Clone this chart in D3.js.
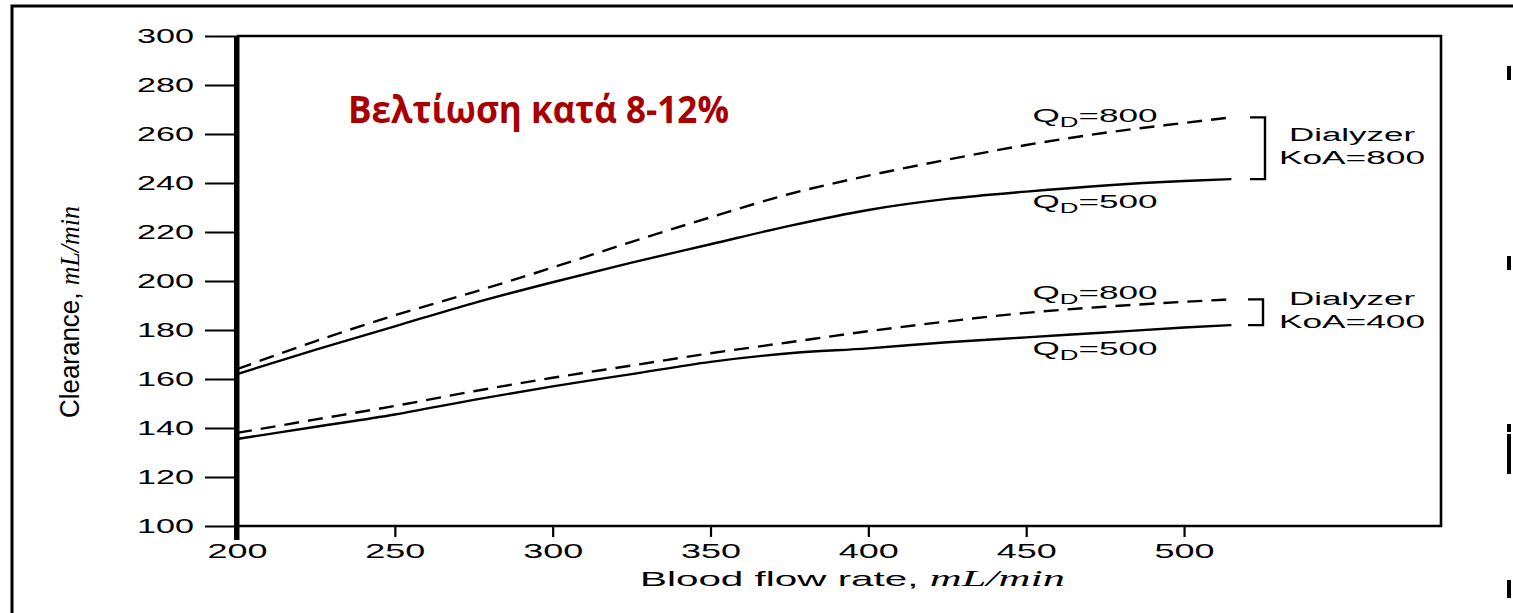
<!DOCTYPE html>
<html>
<head>
<meta charset="utf-8">
<script src="https://cdn.jsdelivr.net/npm/d3@7/dist/d3.min.js"></script>
<style>
  html, body { margin: 0; padding: 0; background: #fff; }
  svg { display: block; }
</style>
</head>
<body>
<svg id="chart" width="1513" height="613"></svg>
<script>
// Blood flow rate (mL/min) at which each clearance curve is sampled
const bloodFlow = [200, 225, 250, 275, 300, 325, 350, 375, 400, 425, 450, 475, 500, 515];

// Urea clearance (mL/min) for two dialyzers at two dialysate flows (QD)
const koa800Qd800 = [164, 175.5, 186, 195.5, 205.5, 216, 226, 235.5, 243, 249.5, 255.5, 260.5, 264.5, 266.8];
const koa800Qd500 = [162, 172, 181.5, 191, 199.5, 207.5, 215, 222.5, 229, 233.5, 236.5, 239, 240.8, 241.6];
const koa400Qd800 = [138, 143.5, 149, 155, 160.5, 165.5, 170.5, 175, 179.5, 183.5, 187, 189.5, 191.5, 192.5];
const koa400Qd500 = [135.5, 140.5, 145.5, 151.5, 157, 162, 167, 170.5, 172.5, 175, 177, 179, 181, 182];

const xTicks = [200, 250, 300, 350, 400, 450, 500];
const yTicks = [100, 120, 140, 160, 180, 200, 220, 240, 260, 280, 300];

const title = "Βελτίωση κατά 8-12%";

const svg = d3.select("#chart");

const x = d3.scaleLinear().domain([200, 581.4]).range([237, 1441]);
const y = d3.scaleLinear().domain([100, 300]).range([526, 36]);

// outer frame of the figure
svg.append("path")
  .attr("d", "M12,613 L12,6 L1513,6")
  .attr("fill", "none").attr("stroke", "#000").attr("stroke-width", 3);

// small marks along the right edge
[[66, 14], [256, 14], [424, 8], [434, 40], [580, 18]].forEach(([y0, h]) => {
  svg.append("rect").attr("x", 1507).attr("y", y0).attr("width", 4).attr("height", h).attr("fill", "#000");
});

// plot box
svg.append("path")
  .attr("d", `M${x(200)},${y(300)} L${x(581.4)},${y(300)} L${x(581.4)},${y(100)} L${x(200)},${y(100)}`)
  .attr("fill", "none").attr("stroke", "#000").attr("stroke-width", 2.6);

const tickFont = "Liberation Sans, Arial, sans-serif";

// y axis
const gy = svg.append("g").attr("transform", `translate(${x(200)},0)`)
  .call(d3.axisLeft(y).tickValues(yTicks).tickSize(32).tickPadding(11).tickFormat(d3.format("d")));
gy.select(".domain").remove();
gy.selectAll(".tick line").attr("stroke", "#000").attr("stroke-width", 2);
gy.selectAll(".tick text")
  .attr("fill", "#000").attr("font-family", tickFont).attr("font-size", 20)
  .attr("textLength", 57).attr("lengthAdjust", "spacingAndGlyphs");

// x axis
const gx = svg.append("g").attr("transform", `translate(0,${y(100)})`)
  .call(d3.axisBottom(x).tickValues(xTicks).tickSize(11).tickPadding(6).tickFormat(d3.format("d")));
gx.select(".domain").remove();
gx.selectAll(".tick line").attr("stroke", "#000").attr("stroke-width", 2.2);
gx.selectAll(".tick text")
  .attr("fill", "#000").attr("font-family", tickFont).attr("font-size", 21)
  .attr("textLength", 60).attr("lengthAdjust", "spacingAndGlyphs");

// heavy left spine
svg.append("rect")
  .attr("x", x(200) - 3).attr("y", y(300)).attr("width", 5.5).attr("height", y(100) - y(300) + 14)
  .attr("fill", "#000");

// axis titles
const xt = svg.append("text")
  .attr("x", 640).attr("y", 586)
  .attr("font-family", tickFont).attr("font-size", 21).attr("fill", "#000")
  .attr("textLength", 425).attr("lengthAdjust", "spacingAndGlyphs");
xt.append("tspan").text("Blood flow rate, ");
xt.append("tspan").attr("font-family", "Liberation Serif, Times New Roman, serif").attr("font-style", "italic").attr("font-size", 23).text("mL/min");

const yt = svg.append("text")
  .attr("transform", "translate(79,312) rotate(-90)")
  .attr("text-anchor", "middle")
  .attr("font-family", "Liberation Sans, Arial, sans-serif").attr("font-size", 27).attr("fill", "#000")
  .attr("textLength", 212).attr("lengthAdjust", "spacingAndGlyphs");
yt.append("tspan").text("Clearance, ");
yt.append("tspan").attr("font-family", "Liberation Serif, Times New Roman, serif").attr("font-style", "italic").text("mL/min");

// curves
const series = [
  { values: koa800Qd800, dashed: true },
  { values: koa800Qd500, dashed: false },
  { values: koa400Qd800, dashed: true },
  { values: koa400Qd500, dashed: false }
];
const line = d3.line().x(d => x(d[0])).y(d => y(d[1])).curve(d3.curveMonotoneX);
series.forEach(s => {
  svg.append("path")
    .datum(bloodFlow.map((b, i) => [b, s.values[i]]))
    .attr("d", line)
    .attr("fill", "none").attr("stroke", "#000").attr("stroke-width", 2.4)
    .attr("stroke-dasharray", s.dashed ? "15,9" : null);
});

// QD labels
function qdLabel(xv, yPix, value) {
  const t = svg.append("text")
    .attr("x", x(xv)).attr("y", yPix)
    .attr("font-family", tickFont).attr("font-size", 19).attr("fill", "#000")
    .attr("textLength", 125).attr("lengthAdjust", "spacingAndGlyphs");
  t.append("tspan").text("Q");
  t.append("tspan").attr("font-size", 14).attr("dy", 5).text("D");
  t.append("tspan").attr("dy", -5).text("=" + value);
}
const lastIdx = bloodFlow.length - 1;
const labelX = 452;
qdLabel(labelX, 122, 800);
qdLabel(labelX, 208, 500);
qdLabel(labelX, 299, 800);
qdLabel(labelX, 355, 500);

// brackets grouping each dialyzer's pair of curves
function bracket(topVal, botVal, x0, name) {
  const yt0 = y(topVal), yb0 = y(botVal);
  svg.append("path")
    .attr("d", `M${x0},${yt0} L${x0 + 15},${yt0} L${x0 + 15},${yb0} L${x0},${yb0}`)
    .attr("fill", "none").attr("stroke", "#000").attr("stroke-width", 2.4);
  const mid = (yt0 + yb0) / 2;
  svg.append("text").attr("x", 1352).attr("y", mid - 7).attr("text-anchor", "middle")
    .attr("font-family", tickFont).attr("font-size", 18).attr("fill", "#000")
    .attr("textLength", 126).attr("lengthAdjust", "spacingAndGlyphs").text("Dialyzer");
  svg.append("text").attr("x", 1352).attr("y", mid + 16).attr("text-anchor", "middle")
    .attr("font-family", tickFont).attr("font-size", 18).attr("fill", "#000")
    .attr("textLength", 146).attr("lengthAdjust", "spacingAndGlyphs").text(name);
}
bracket(koa800Qd800[lastIdx], koa800Qd500[lastIdx], 1250, "KoA=800");
bracket(koa400Qd800[lastIdx], koa400Qd500[lastIdx], 1248, "KoA=400");

// headline
svg.append("text")
  .attr("x", 348).attr("y", 123)
  .attr("font-family", "Open Sans, Noto Sans, sans-serif").attr("font-weight", 700)
  .attr("font-size", 38).attr("fill", "#a80000")
  .attr("textLength", 381).attr("lengthAdjust", "spacingAndGlyphs")
  .text(title);
</script>
</body>
</html>
